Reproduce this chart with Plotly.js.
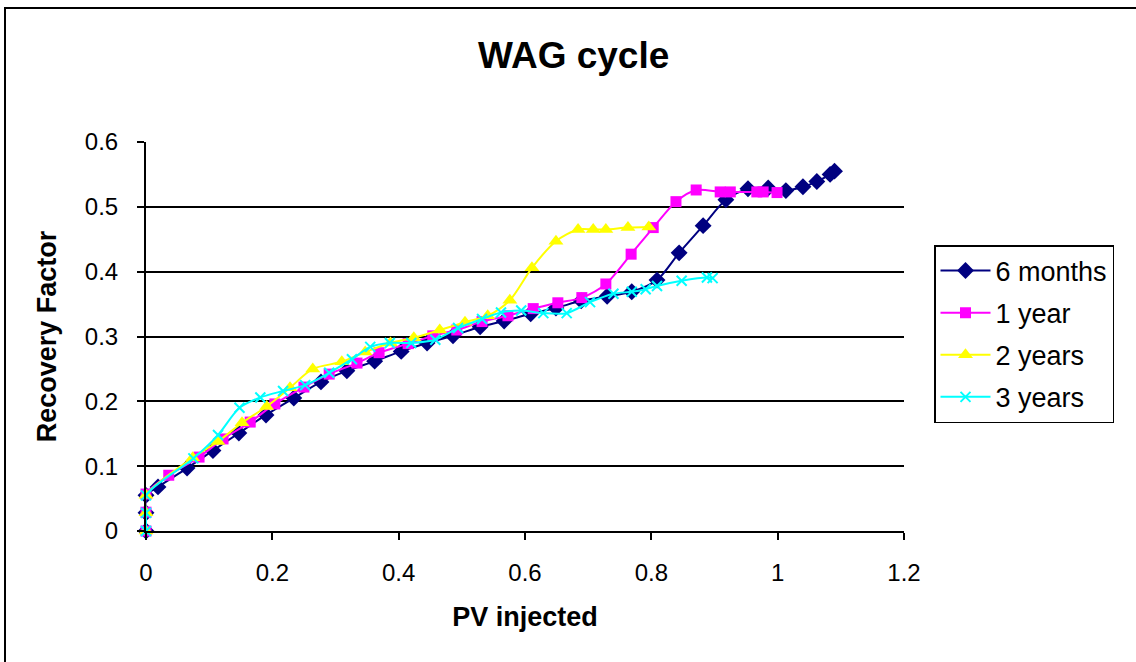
<!DOCTYPE html>
<html>
<head>
<meta charset="utf-8">
<script src="https://cdn.plot.ly/plotly-3.0.1.min.js"></script>
<style>
  html, body { margin: 0; padding: 0; background: #ffffff; }
  #frame { position: absolute; left: 4px; top: 7px; width: 1200px; height: 700px; border-left: 2px solid #000; border-top: 2px solid #000; }
  #chart { position: absolute; left: 0; top: 0; width: 1136px; height: 662px; }
</style>
</head>
<body>
<div id="frame"></div>
<div id="chart"></div>
<script>
// Series names
const seriesNames = ["6 months", "1 year", "2 years", "3 years"];

// 6 months
const x6m = [0, 0, 0, 0.019, 0.065, 0.106, 0.147, 0.19, 0.234, 0.277, 0.318, 0.362, 0.404, 0.445, 0.486, 0.529, 0.567, 0.609, 0.649, 0.689, 0.73, 0.769, 0.809, 0.844, 0.882, 0.918, 0.953, 0.985, 1.013, 1.04, 1.062, 1.083, 1.09];
const y6m = [0, 0.028, 0.055, 0.068, 0.097, 0.124, 0.151, 0.179, 0.205, 0.23, 0.247, 0.262, 0.277, 0.29, 0.301, 0.315, 0.324, 0.335, 0.344, 0.355, 0.362, 0.369, 0.387, 0.429, 0.471, 0.511, 0.528, 0.529, 0.525, 0.531, 0.539, 0.55, 0.555];

// 1 year
const x1y = [0, 0, 0, 0.036, 0.084, 0.122, 0.165, 0.204, 0.25, 0.29, 0.334, 0.369, 0.415, 0.454, 0.492, 0.532, 0.573, 0.613, 0.652, 0.69, 0.728, 0.768, 0.803, 0.839, 0.871, 0.909, 0.925, 0.967, 0.977, 0.999];
const y1y = [0, 0.029, 0.057, 0.086, 0.114, 0.142, 0.168, 0.196, 0.222, 0.242, 0.259, 0.275, 0.289, 0.301, 0.31, 0.323, 0.332, 0.343, 0.352, 0.36, 0.381, 0.427, 0.468, 0.508, 0.526, 0.523, 0.523, 0.523, 0.523, 0.522];

// 2 years
const x2y = [0, 0, 0, 0.074, 0.114, 0.152, 0.191, 0.228, 0.264, 0.31, 0.347, 0.387, 0.424, 0.465, 0.505, 0.541, 0.576, 0.611, 0.649, 0.684, 0.708, 0.728, 0.763, 0.796];
const y2y = [0, 0.028, 0.055, 0.113, 0.138, 0.167, 0.192, 0.221, 0.25, 0.261, 0.276, 0.29, 0.298, 0.31, 0.322, 0.332, 0.356, 0.406, 0.447, 0.465, 0.465, 0.465, 0.468, 0.469];

// 3 years
const x3y = [0, 0, 0, 0.075, 0.114, 0.148, 0.181, 0.217, 0.252, 0.29, 0.326, 0.355, 0.386, 0.42, 0.458, 0.494, 0.532, 0.562, 0.594, 0.629, 0.666, 0.703, 0.74, 0.769, 0.791, 0.809, 0.848, 0.888, 0.897];
const y3y = [0, 0.028, 0.055, 0.112, 0.148, 0.19, 0.206, 0.216, 0.225, 0.244, 0.265, 0.284, 0.29, 0.29, 0.295, 0.313, 0.327, 0.337, 0.34, 0.336, 0.336, 0.353, 0.366, 0.369, 0.373, 0.378, 0.386, 0.391, 0.39];

const xTickVals = [0, 0.2, 0.4, 0.6, 0.8, 1.0, 1.2];
const xTickText = ["0", "0.2", "0.4", "0.6", "0.8", "1", "1.2"];
const yTickVals = [0, 0.1, 0.2, 0.3, 0.4, 0.5, 0.6];
const yTickText = ["0", "0.1", "0.2", "0.3", "0.4", "0.5", "0.6"];

const FONT = "Liberation Sans, Arial, sans-serif";

function mk(x, y, name, color, symbol, size, extraMarker) {
  return {
    x: x, y: y, name: name, type: "scatter", mode: "lines+markers",
    legendgroup: name,
    cliponaxis: false,
    line: { color: color, width: 2, shape: "spline", smoothing: 0.8 },
    marker: Object.assign({ color: color, symbol: symbol, size: size }, extraMarker || {})
  };
}

const data = [
  mk(x6m, y6m, seriesNames[0], "#000080", "diamond", 13),
  mk(x1y, y1y, seriesNames[1], "#FF00FF", "square", 11),
  mk(x2y, y2y, seriesNames[2], "#FFFF00", "triangle-up", 13),
  mk(x3y, y3y, seriesNames[3], "#00FFFF", "x-thin", 10, { line: { color: "#00FFFF", width: 2 } })
];

const layout = {
  width: 1136, height: 662,
  margin: { l: 146, r: 232, t: 142, b: 131, pad: 0 },
  paper_bgcolor: "rgba(0,0,0,0)",
  plot_bgcolor: "rgba(0,0,0,0)",
  font: { family: FONT, color: "#000", size: 24 },
  title: {
    text: "<b>WAG cycle</b>",
    font: { family: FONT, size: 37, color: "#000" },
    xref: "container", yref: "container",
    x: 0.505, xanchor: "center",
    y: 1 - 55 / 662, yanchor: "middle"
  },
  xaxis: {
    range: [0, 1.2], autorange: false,
    tickvals: xTickVals, ticktext: xTickText,
    ticks: "outside", ticklen: 7, tickwidth: 2, tickcolor: "#000",
    ticklabelstandoff: 12,
    showline: true, linecolor: "#000", linewidth: 2,
    showgrid: false, zeroline: false,
    tickfont: { family: FONT, size: 24, color: "#000" },
    title: { text: "<b>PV injected</b>", font: { family: FONT, size: 27, color: "#000" }, standoff: 22 },
    automargin: false
  },
  yaxis: {
    range: [0, 0.6], autorange: false,
    tickvals: yTickVals, ticktext: yTickText,
    ticks: "outside", ticklen: 7, tickwidth: 2, tickcolor: "#000",
    ticklabelstandoff: 14,
    showline: true, linecolor: "#000", linewidth: 2,
    showgrid: true, gridcolor: "#000", gridwidth: 2,
    zeroline: false,
    tickfont: { family: FONT, size: 24, color: "#000" },
    title: { text: "<b>Recovery Factor</b>", font: { family: FONT, size: 27, color: "#000" }, standoff: 20 },
    automargin: false
  },
  showlegend: true,
  legend: {
    x: (934 - 146) / 758, y: (531 - 245) / 389,
    xanchor: "left", yanchor: "top",
    bgcolor: "#fff", bordercolor: "#000", borderwidth: 1.5,
    font: { family: FONT, size: 27, color: "#000" },
    tracegroupgap: 4,
    itemwidth: 50,
    traceorder: "grouped"
  }
};

Plotly.newPlot("chart", data, layout, { displayModeBar: false, staticPlot: true });
</script>
</body>
</html>
